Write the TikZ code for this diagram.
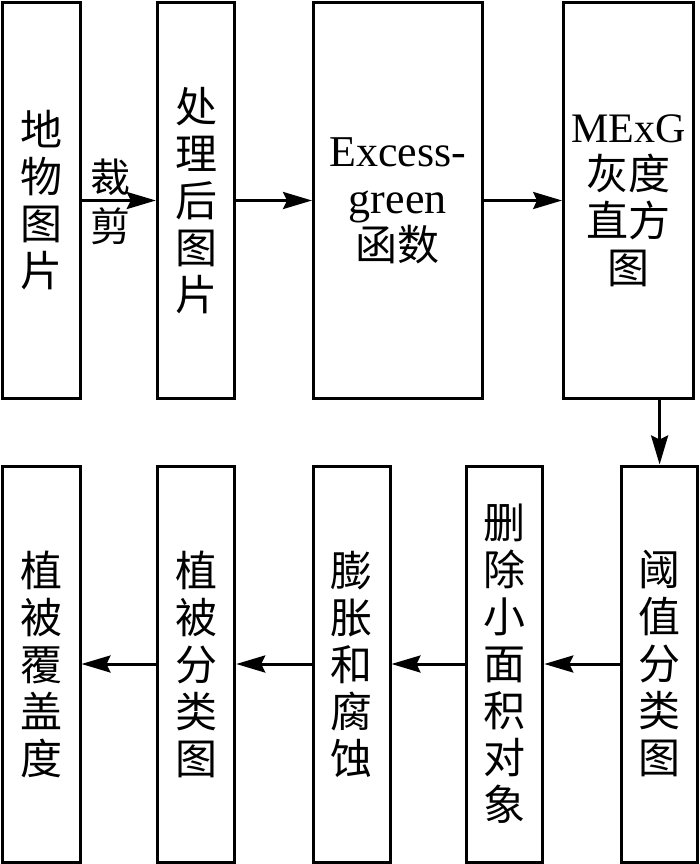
\documentclass[tikz,border=0pt]{standalone}
\usepackage{fontspec}
\setmainfont{Liberation Serif}
\newfontfamily\cjk{Noto Sans CJK SC}
\newcommand{\latin}[1]{{\rmfamily\fontsize{44}{47}\selectfont #1}}
\usetikzlibrary{positioning,arrows.meta}

\begin{document}
\begin{tikzpicture}[
			x=1pt, y=-1pt,
			stage/.style = {draw, line width=3pt,
				minimum height=396pt, inner sep=0pt, align=center,
				font=\cjk\fontsize{42}{47}\selectfont},
			flow/.style = {line width=3pt,
				-{Stealth[length=29pt,width=17pt,inset=4pt]}}]
			\useasboundingbox (0,0) rectangle (700,864);
			% upper row
			\node[stage, minimum width=77.5pt] (photo) at (41.25,200.5) {地\\物\\图\\片};
			\node[stage, minimum width=77.4pt] (proc) at (196,200.5) {处\\理\\后\\图\\片};
			\node[stage, minimum width=168.5pt] (exg) at (397.75,200.5)
				{\latin{Excess-}\\\latin{green}\\函数};
			\node[stage, minimum width=130pt] (mexg) at (628.6,200.5)
				{{\rmfamily MExG}\\灰度\\直方\\图};
			% lower row
			\node[stage, minimum width=76.7pt] (thres) at (659.6,664) {阈\\值\\分\\类\\图};
			\node[stage, minimum width=76.6pt] (clean) at (504.5,664) {删\\除\\小\\面\\积\\对\\象};
			\node[stage, minimum width=76.5pt] (morph) at (351.75,664) {膨\\胀\\和\\腐\\蚀};
			\node[stage, minimum width=77.4pt] (vegmap) at (196,664) {植\\被\\分\\类\\图};
			\node[stage, minimum width=77.5pt] (cover) at (41.25,664) {植\\被\\覆\\盖\\度};
			% connectors
			\draw[flow] (photo) -- (proc);
			\node[align=center, inner sep=0pt, font=\cjk\fontsize{40}{49}\selectfont]
				(cut) at (110,202) {裁\\剪};
			\draw[flow] (proc) -- (exg);
			\draw[flow] (exg) -- (mexg);
			\draw[flow] (thres.north |- mexg.south) -- (thres.north);
			\draw[flow] (thres) -- (clean);
			\draw[flow] (clean) -- (morph);
			\draw[flow] (morph) -- (vegmap);
			\draw[flow] (vegmap) -- (cover);
\end{tikzpicture}
\end{document}
